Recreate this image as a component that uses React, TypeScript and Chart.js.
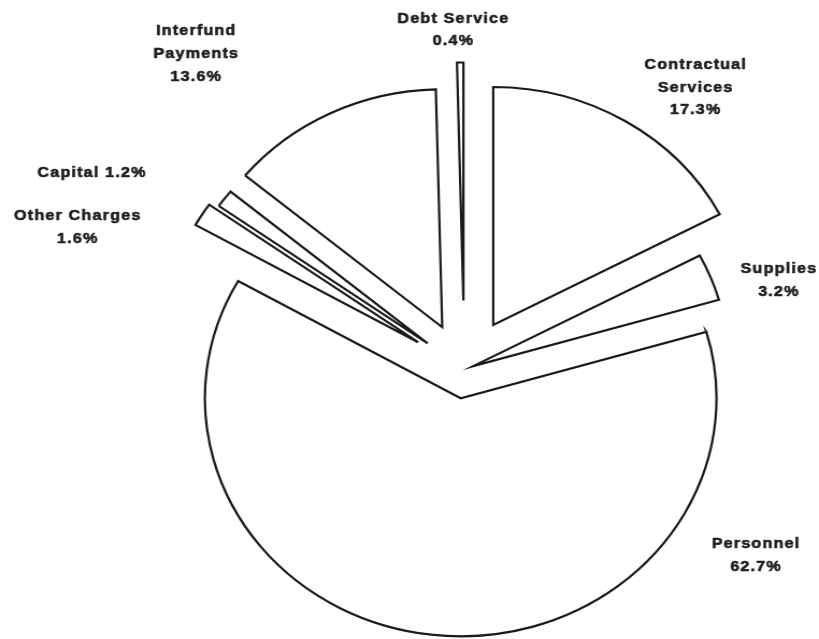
import React, { useEffect, useRef } from "react";
import { Chart, registerables } from "chart.js";

Chart.register(...registerables);

// ---- data (clockwise from 12 o'clock) ----
const categories = [
  "Contractual Services",
  "Supplies",
  "Personnel",
  "Other Charges",
  "Capital",
  "Interfund Payments",
  "Debt Service",
];
const shares = [17.3, 3.2, 62.7, 1.6, 1.2, 13.6, 0.4];

// label text lines (percentage appended from shares)
const labelLines = [
  ["Contractual", "Services"],
  ["Supplies"],
  ["Personnel"],
  ["Other Charges"],
  ["Capital"],
  ["Interfund", "Payments"],
  ["Debt Service"],
];
const percentInline = [false, false, false, false, true, false, false];

// ---- styling / layout (kept apart from the data) ----
const explodeDistance = [52, 9, 29, 51, 43, 47, 69];
const labelAngleDeg = [-52.8, -17.05, 34.35, 201.65, 209.67, 231.67, -91.82];
const labelDistance = [355, 305.5, 328, 387.6, 399.4, 403.1, 340.4];

const CANVAS_W = 762;
const CANVAS_H = 639;
const SHOWN_W = 819;
const PIE_RADIUS = 238;
const LINE_H = 22.7;

const chartCenter = (chart: any) => ({
  cx: (chart.chartArea.left + chart.chartArea.right) / 2,
  cy: (chart.chartArea.top + chart.chartArea.bottom) / 2,
});

const explodePlugin = {
  id: "explodeSlices",
  afterDatasetUpdate(chart: any, args: any) {
    const meta = chart.getDatasetMeta(args.index);
    const { cx, cy } = chartCenter(chart);
    meta.data.forEach((arc: any, i: number) => {
      const mid = (arc.startAngle + arc.endAngle) / 2;
      const d = explodeDistance[i] || 0;
      arc.x = cx + Math.cos(mid) * d;
      arc.y = cy + Math.sin(mid) * d;
    });
  },
};

const labelPlugin = {
  id: "sliceLabels",
  afterDraw(chart: any) {
    const ctx = chart.ctx as CanvasRenderingContext2D;
    const { cx, cy } = chartCenter(chart);
    ctx.save();
    ctx.font = 'bold 15px "Liberation Sans", Arial, sans-serif';
    ctx.fillStyle = "#1f1f1f";
    ctx.strokeStyle = "#1f1f1f";
    ctx.lineWidth = 0.6;
    ctx.lineJoin = "round";
    ctx.textAlign = "center";
    ctx.textBaseline = "middle";
    (ctx as any).letterSpacing = "1.1px";
    categories.forEach((_, i) => {
      const pct = `${shares[i].toFixed(1)}%`;
      const lines = percentInline[i]
        ? [`${labelLines[i].join(" ")} ${pct}`]
        : [...labelLines[i], pct];
      const a = (labelAngleDeg[i] * Math.PI) / 180;
      const x = cx + Math.cos(a) * labelDistance[i] + 0.6;
      const y = cy + Math.sin(a) * labelDistance[i];
      lines.forEach((ln, j) => {
        const ly = y + (j - (lines.length - 1) / 2) * LINE_H + 0.7;
        ctx.fillText(ln, x, ly);
        ctx.strokeText(ln, x, ly);
      });
    });
    ctx.restore();
  },
};

export default function App() {
  const canvasRef = useRef<HTMLCanvasElement | null>(null);

  useEffect(() => {
    document.body.style.margin = "0";
    document.body.style.background = "#fff";
    const canvas = canvasRef.current;
    if (!canvas) return;
    const chart = new Chart(canvas, {
      type: "pie",
      data: {
        labels: categories,
        datasets: [
          {
            data: shares,
            backgroundColor: "#ffffff",
            borderColor: "#1a1a1a",
            borderWidth: 2.2,
            borderJoinStyle: "miter",
            borderAlign: "center",
          } as any,
        ],
      },
      options: {
        responsive: false,
        devicePixelRatio: 1,
        animation: false,
        events: [],
        radius: PIE_RADIUS,
        rotation: 0,
        layout: { padding: { left: 102, right: 0, top: 100, bottom: 0 } },
        plugins: {
          legend: { display: false },
          tooltip: { enabled: false },
        },
      } as any,
      plugins: [explodePlugin, labelPlugin],
    });
    return () => chart.destroy();
  }, []);

  return (
    <div
      style={{
        position: "fixed",
        left: 0,
        top: 0,
        width: SHOWN_W,
        height: CANVAS_H,
        background: "#fff",
      }}
    >
      <canvas
        ref={canvasRef}
        width={CANVAS_W}
        height={CANVAS_H}
        style={{ width: `${SHOWN_W}px`, height: `${CANVAS_H}px`, display: "block" }}
      />
    </div>
  );
}
